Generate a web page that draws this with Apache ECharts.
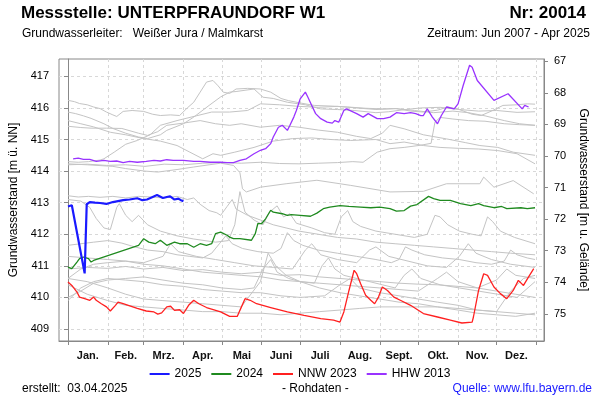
<!DOCTYPE html>
<html>
<head>
<meta charset="utf-8">
<script src="https://cdn.jsdelivr.net/npm/echarts@6/dist/echarts.min.js"></script>
<style>
  html, body { margin: 0; padding: 0; background: #fff; }
  #myChart { width: 600px; height: 400px; }
</style>
</head>
<body>
<div id="myChart"></div>
<script>
// Tagesnummer im Jahr (0 = 1. Jan.) / Wasserstand in m ü. NN
var monthStarts = [0, 31, 59, 90, 120, 151, 181, 212, 243, 273, 304, 334, 365];
var monthNames = ['Jan.', 'Feb.', 'Mrz.', 'Apr.', 'Mai', 'Juni', 'Juli', 'Aug.', 'Sept.', 'Okt.', 'Nov.', 'Dez.'];
var leftTicks = [409, 410, 411, 412, 413, 414, 415, 416, 417];
var rightTicks = [67, 68, 69, 70, 71, 72, 73, 74, 75];
var groundLevel = 484.48; // Gelände, fuer die rechte Achse

var y2025 = [[0,412.88],[3,412.92],[4,412.90],[13,410.76],[14.6,412.95],[17,413.02],[21,413.00],[25,412.99],[30,412.96],[35,413.02],[39,413.05],[43,413.08],[48,413.10],[54,413.14],[58,413.08],[61.6,413.10],[66,413.18],[69.4,413.24],[74,413.15],[77,413.18],[79.6,413.20],[83,413.10],[86,413.13],[88,413.08],[90,413.05]];

var y2024 = [[0,410.96],[3,410.91],[7,411.12],[9,411.23],[12,411.28],[16,411.23],[18,411.12],[20,411.17],[55,411.65],[59,411.86],[63,411.75],[68,411.70],[72,411.81],[77,411.65],[83,411.75],[87,411.70],[93,411.70],[98,411.59],[103,411.70],[108,411.65],[112,411.70],[115,412.02],[119,412.07],[124,411.97],[126,411.91],[129,411.86],[134,411.86],[143,411.81],[146,412.02],[148,412.34],[151,412.34],[154,412.49],[158,412.76],[160,412.70],[167,412.65],[171,412.60],[174,412.62],[181,412.60],[189,412.57],[194,412.67],[199,412.81],[204,412.86],[212,412.91],[219,412.88],[228,412.86],[236,412.84],[243,412.86],[251,412.81],[256,412.73],[262,412.75],[267,412.89],[272,412.94],[281,413.20],[285,413.13],[290,413.07],[298,413.07],[306,412.97],[314,412.91],[320,412.97],[324,412.91],[332,412.84],[338,412.88],[342,412.81],[353,412.84],[358,412.81],[364,412.84]];

var nnw2023 = [[0,410.49],[3,410.38],[7,410.17],[9,410.01],[13,409.96],[17,409.91],[20,410.01],[22,409.91],[26,409.80],[30,409.70],[33,409.57],[37,409.75],[39,409.85],[43,409.80],[47,409.75],[54,409.65],[61,409.57],[67,409.54],[70,409.47],[73,409.51],[77,409.70],[80,409.72],[83,409.59],[87,409.61],[90,409.49],[94,409.75],[98,409.91],[102,409.80],[108,409.68],[119,409.54],[126,409.40],[132,409.40],[134,409.59],[138,409.96],[142,409.91],[147,409.80],[158,409.68],[171,409.54],[184,409.43],[197,409.33],[207,409.28],[212,409.22],[215,409.54],[219,410.22],[223,410.86],[225,410.75],[228,410.44],[232,410.07],[236,409.91],[239,409.80],[242,410.01],[245,410.33],[249,410.22],[254,410.01],[259,409.91],[267,409.75],[277,409.49],[288,409.38],[298,409.28],[307,409.19],[315,409.22],[316,409.38],[320,410.22],[324,410.75],[327,410.70],[332,410.33],[337,410.12],[342,409.96],[347,410.22],[351,410.54],[355,410.38],[359,410.65],[363,410.91]];

var hhw2013 = [[4,414.39],[8,414.41],[12,414.37],[17,414.37],[22,414.31],[28,414.34],[33,414.31],[38,414.32],[43,414.27],[48,414.31],[54,414.28],[61,414.31],[67,414.34],[72,414.32],[77,414.36],[82,414.34],[90,414.34],[98,414.31],[103,414.31],[111,414.28],[119,414.28],[124,414.27],[129,414.27],[134,414.34],[139,414.39],[145,414.55],[150,414.66],[154,414.71],[158,414.87],[160,415.08],[164,415.39],[167,415.45],[171,415.29],[173,415.45],[176,415.71],[178,415.92],[181,416.29],[185,416.50],[187,416.34],[190,416.08],[193,415.82],[197,415.66],[202,415.55],[206,415.52],[208,415.60],[211,415.55],[215,415.92],[217,415.97],[225,415.82],[230,415.71],[234,415.82],[241,415.66],[246,415.66],[251,415.71],[256,415.85],[262,415.82],[267,415.85],[271,415.82],[275,415.76],[277,415.76],[280,415.97],[284,415.71],[288,415.50],[291,415.76],[295,416.03],[301,415.97],[304,416.13],[308,416.71],[313,417.35],[315,417.29],[319,416.87],[332,416.24],[343,416.45],[354,415.97],[356,416.08],[359,416.03]];

// uebrige Jahre (grau)
var grey01 = [[0,416.24],[5,416.2],[9,416.14],[15,416.1],[20,416.03],[25,415.98],[30,415.87],[35,415.78],[38,415.73],[43,415.89],[50,415.92],[59,415.89],[66,415.8],[72,415.76],[80,415.78],[87,415.76],[93,416.0],[98,416.18],[103,416.5],[108,416.82],[113,416.87],[117,416.7],[121,416.5],[126,416.46],[131,416.6],[140,416.62],[150,416.6],[158,416.5],[166,416.3],[172,416.23],[182,416.15],[192,416.08],[205,416.06],[218,416.03],[232,415.99],[245,415.97],[256,415.98],[267,415.9],[277,415.87],[288,415.93],[296,416.03],[305,415.95],[315,415.8],[322,415.76],[330,415.9],[339,416.08],[350,416.1],[358,416.13],[364,416.12]];
var grey02 = [[0,415.87],[6,415.82],[12,415.75],[18,415.67],[28,415.5],[35,415.35],[45,415.2],[55,415.08],[62,415.03],[72,415.15],[77,415.29],[90,415.5],[98,415.71],[110,416.08],[119,416.35],[126,416.5],[131,416.52],[138,416.56],[145,416.6],[152,416.34],[160,416.3],[171,416.18],[185,416.1],[197,415.97],[210,415.95],[223,415.92],[240,415.85],[250,415.88],[263,415.95],[275,416.0],[290,416.02],[305,415.95],[320,415.9],[334,415.92],[350,415.86],[364,415.88]];
var grey03 = [[0,415.42],[10,415.38],[18,415.36],[30,415.36],[42,415.35],[55,415.2],[62,415.13],[70,415.25],[77,415.45],[90,415.52],[103,415.6],[115,415.5],[126,415.45],[135,415.5],[150,415.39],[165,415.45],[180,415.39],[195,415.3],[210,415.23],[225,415.1],[236,415.03],[245,415.2],[251,415.45],[262,415.34],[277,415.15],[295,415.02],[310,414.9],[321,414.81],[335,414.75],[347,414.6],[364,414.5]];
var grey04 = [[0,414.3],[8,414.28],[16,414.3],[25,414.35],[28,414.39],[36,414.6],[45,414.85],[54,414.97],[64,415.15],[72,415.45],[85,415.6],[100,415.75],[112,415.87],[126,415.87],[140,415.92],[150,416.13],[165,416.1],[180,416.05],[195,416.02],[210,416.05],[225,416.0],[240,415.95],[255,415.98],[270,415.92],[285,415.85],[300,415.9],[312,415.85],[325,415.75],[340,415.6],[352,415.5],[364,415.45]];
var grey05 = [[0,415.6],[10,415.5],[20,415.4],[33,415.23],[45,415.15],[59,415.03],[72,414.95],[85,414.81],[95,414.6],[105,414.39],[113,414.55],[119,414.5],[130,414.6],[145,414.75],[160,414.95],[175,415.03],[190,415.05],[205,415.0],[220,414.97],[240,415.0],[251,414.87],[262,414.92],[277,414.81],[290,414.75],[305,414.72],[320,414.7],[335,414.65],[350,414.55],[364,414.23]];
var grey06 = [[0,414.2],[15,414.22],[30,414.18],[45,414.2],[60,414.15],[75,414.22],[90,414.2],[105,414.25],[119,414.27],[135,414.25],[150,414.28],[165,414.24],[180,414.23],[195,414.25],[210,414.27],[222,414.3],[230,414.28],[241,414.6],[251,414.71],[262,414.75],[275,414.82],[283,414.88],[286,415.55],[290,415.7],[300,415.65],[312,415.6],[325,415.58],[340,415.5],[352,415.47],[364,415.45]];
var grey07 = [[0,414.23],[15,414.2],[35,414.15],[45,414.08],[60,414.0],[70,413.97],[85,414.05],[98,414.13],[110,414.2],[119,414.25],[129,414.18],[134,413.95],[136,413.44],[139,413.34],[150,413.49],[170,413.6],[194,413.71],[220,413.55],[251,413.34],[277,413.36],[295,413.6],[321,413.6],[324,413.81],[332,413.49],[347,413.7],[363,413.28]];
var grey08 = [[0,413.22],[8,413.18],[16,413.2],[25,413.17],[35,413.2],[45,413.15],[55,413.2],[65,413.18],[75,413.15],[85,413.2],[93,413.1],[98,413.15],[103,412.95],[110,412.75],[116,412.68],[119,412.6],[124,412.88],[128,413.1],[131,412.8],[140,412.6],[150,412.45],[160,412.3],[170,412.2],[180,412.1],[195,412.0],[210,411.9],[225,411.85],[240,411.75],[255,411.7],[270,411.65],[285,411.6],[300,411.55],[315,411.5],[330,411.45],[345,411.4],[364,411.35]];
var grey09 = [[0,413.1],[10,413.05],[17,412.85],[22,412.5],[28,412.2],[33,412.15],[38,412.85],[40,412.97],[45,412.6],[50,412.4],[55,412.6],[62,412.3],[72,412.1],[85,411.95],[98,411.85],[115,411.75],[125,411.8],[130,412.3],[134,413.35],[138,412.7],[145,412.45],[152,412.3],[157,412.7],[163,412.9],[168,412.55],[173,412.65],[178,412.35],[190,412.2],[200,412.05],[208,412.0],[213,412.55],[218,412.75],[222,412.4],[228,412.25],[240,412.1],[255,412.0],[270,411.9],[280,412.0],[286,412.6],[290,412.55],[296,412.3],[305,412.1],[315,412.0],[322,411.95],[327,412.55],[331,412.4],[337,412.1],[348,411.9],[364,411.7]];
var grey10 = [[0,411.65],[10,411.7],[20,411.75],[31,411.8],[42,411.72],[52,411.6],[62,411.5],[74,411.45],[85,411.35],[95,411.3],[105,411.25],[112,411.4],[118,411.7],[123,411.95],[128,411.7],[136,411.55],[148,411.45],[160,411.4],[166,411.55],[171,412.05],[176,411.8],[183,411.65],[195,411.5],[210,411.4],[225,411.3],[240,411.2],[252,411.1],[258,411.2],[263,411.6],[268,411.5],[278,411.35],[292,411.25],[305,411.2],[318,411.1],[330,411.05],[340,411.15],[345,411.5],[350,411.35],[358,411.25],[364,411.2]];
var grey11 = [[0,410.9],[15,410.95],[31,410.92],[45,410.98],[59,410.9],[74,410.95],[90,410.85],[105,410.88],[120,410.8],[135,410.75],[151,410.8],[166,410.7],[181,410.72],[196,410.65],[212,410.6],[227,410.55],[243,410.5],[258,410.45],[273,410.42],[288,410.4],[304,410.35],[319,410.3],[334,410.55],[342,410.9],[349,410.7],[364,410.6]];
var grey12 = [[0,410.6],[10,410.9],[20,411.05],[31,411.1],[45,411.15],[59,411.05],[74,411.0],[90,410.9],[105,410.8],[120,410.75],[135,410.7],[151,410.65],[166,410.55],[181,410.5],[196,410.45],[212,410.4],[227,410.35],[243,410.3],[258,410.25],[273,410.2],[288,410.6],[295,410.8],[304,410.5],[319,410.3],[334,410.2],[349,410.1],[364,410.0]];
var grey13 = [[0,410.6],[15,410.5],[31,410.3],[45,410.1],[59,409.95],[74,409.9],[90,409.85],[105,409.8],[120,409.75],[135,409.7],[150,410.5],[156,411.4],[162,411.0],[170,410.7],[181,410.5],[196,410.3],[212,410.15],[227,410.05],[243,409.95],[258,409.85],[273,409.8],[288,409.7],[304,409.6],[319,409.5],[334,409.45],[349,409.4],[364,409.5]];
var grey14 = [[0,409.9],[10,410.3],[20,410.5],[31,410.6],[45,410.55],[59,410.5],[74,410.4],[90,410.35],[105,410.25],[120,410.2],[135,410.15],[150,410.15],[166,410.05],[181,410.0],[200,410.05],[212,410.4],[220,410.6],[227,410.3],[243,410.15],[258,410.05],[273,409.95],[288,409.85],[304,409.75],[319,409.6],[334,409.55],[345,410.2],[355,410.6],[364,410.7]];
var grey15 = [[0,410.4],[15,410.1],[31,409.9],[45,409.75],[59,409.7],[74,409.65],[90,409.6],[105,409.55],[120,409.55],[135,409.5],[151,409.5],[166,409.45],[181,409.5],[196,409.55],[212,409.6],[227,409.65],[243,409.7],[258,409.7],[273,409.7],[288,409.7],[304,409.65],[319,409.6],[334,409.55],[349,409.5],[364,409.45]];
var grey16 = [[0,410.0],[10,410.2],[20,410.45],[31,410.55],[45,410.6],[59,410.65],[74,410.55],[90,410.45],[105,410.4],[120,410.3],[135,410.25],[145,410.3],[152,410.9],[158,411.2],[163,410.8],[172,410.6],[181,410.5],[192,410.45],[198,411.0],[203,411.25],[208,410.9],[215,410.7],[230,410.55],[245,410.4],[255,410.3],[262,410.7],[268,410.9],[275,410.6],[290,410.4],[305,410.3],[320,410.2],[335,410.1],[350,410.0],[364,410.5]];
var grey17 = [[0,411.3],[15,411.25],[31,411.2],[45,411.15],[59,411.1],[74,411.3],[80,411.7],[86,411.45],[100,411.3],[115,411.2],[130,411.1],[145,411.0],[160,410.95],[175,410.9],[185,411.5],[190,411.7],[197,411.35],[210,411.2],[225,411.1],[235,411.5],[240,411.6],[250,411.3],[265,411.15],[280,411.0],[295,410.95],[305,411.3],[312,411.7],[318,411.4],[330,411.2],[345,411.05],[364,410.95]];

var greyYears = [grey01, grey02, grey03, grey04, grey05, grey06, grey07, grey08, grey09, grey10, grey11, grey12, grey13, grey14, grey15, grey16, grey17];

var myChart = echarts.init(document.getElementById('myChart'), null, { renderer: 'canvas' });

var monthMids = [];
for (var i = 0; i < 12; i++) {
  monthMids.push((monthStarts[i] + monthStarts[i + 1]) / 2);
}

var series = [];
greyYears.forEach(function (d, idx) {
  series.push({
    name: 'grau' + idx,
    type: 'line',
    data: d,
    showSymbol: false,
    silent: true,
    lineStyle: { color: '#c4c4c4', width: 1 },
    z: 1
  });
});

function mainLine(name, data, color, width) {
  return {
    name: name,
    type: 'line',
    data: data,
    showSymbol: false,
    color: color,
    lineStyle: { color: color, width: width },
    z: 3
  };
}
series.push(mainLine('HHW 2013', hhw2013, '#9933ff', 1.3));
series.push(mainLine('NNW 2023', nnw2023, '#ff2020', 1.3));
series.push(mainLine('2024', y2024, '#1f8a1f', 1.3));
series.push(mainLine('2025', y2025, '#1a1aff', 2.2));

var txt = { fontFamily: 'Liberation Sans, Arial, sans-serif' };

var option = {
  animation: false,
  backgroundColor: '#fff',
  textStyle: txt,
  grid: { left: 59, right: 56, top: 59, bottom: 59, show: true, borderColor: '#888', borderWidth: 1, containLabel: false, outerBoundsMode: 'none' },
  legend: {
    data: ['2025', '2024', 'NNW 2023', 'HHW 2013'],
    bottom: 15,
    left: 'center',
    icon: 'rect',
    itemWidth: 20,
    itemHeight: 2,
    itemGap: 10,
    textStyle: { fontSize: 12, color: '#000', fontFamily: txt.fontFamily }
  },
  graphic: [
    { type: 'text', left: 21, top: 5, style: { text: 'Messstelle: UNTERPFRAUNDORF W1', font: 'bold 17px Liberation Sans, Arial', fill: '#000' } },
    { type: 'text', right: 14, top: 5, style: { text: 'Nr: 20014', font: 'bold 17px Liberation Sans, Arial', fill: '#000' } },
    { type: 'text', left: 22, top: 28, style: { text: 'Grundwasserleiter:   Weißer Jura / Malmkarst', font: '12px Liberation Sans, Arial', fill: '#000' } },
    { type: 'text', right: 10, top: 28, style: { text: 'Zeitraum: Jun 2007 - Apr 2025', font: '12px Liberation Sans, Arial', fill: '#000' } },
    { type: 'text', left: 22, top: 383, style: { text: 'erstellt:  03.04.2025', font: '12px Liberation Sans, Arial', fill: '#000' } },
    { type: 'text', left: 282, top: 383, style: { text: '- Rohdaten -', font: '12px Liberation Sans, Arial', fill: '#000' } },
    { type: 'text', right: 8, top: 383, style: { text: 'Quelle: www.lfu.bayern.de', font: '12px Liberation Sans, Arial', fill: '#1a1aff' } }
  ],
  xAxis: {
    type: 'value',
    min: -7,
    max: 371,
    axisLine: { show: true, lineStyle: { color: '#888' } },
    axisTick: { show: true, length: 4, lineStyle: { color: '#888' }, customValues: monthStarts },
    axisLabel: {
      customValues: monthMids,
      margin: 9,
      fontSize: 11,
      fontWeight: 'bold',
      color: '#111',
      formatter: function (v) {
        var k = monthMids.indexOf(v);
        return k >= 0 ? monthNames[k] : '';
      }
    },
    splitLine: { show: true, lineStyle: { color: '#d8d8d8', type: [3, 3] } }
  },
  yAxis: [
    {
      type: 'value',
      min: 408.62,
      max: 417.55,
      position: 'left',
      name: 'Grundwasserstand [m ü. NN]',
      nameLocation: 'middle',
      nameGap: 34,
      nameRotate: 90,
      nameTextStyle: { fontSize: 12, color: '#000' },
      axisLine: { show: true, lineStyle: { color: '#888' } },
      axisTick: { show: true, length: 4, lineStyle: { color: '#888' }, customValues: leftTicks },
      axisLabel: { customValues: leftTicks, margin: 10, fontSize: 11, color: '#000' },
      splitLine: { show: true, lineStyle: { color: '#d8d8d8', type: [3, 3] } }
    },
    {
      type: 'value',
      inverse: true,
      min: groundLevel - 417.55,
      max: groundLevel - 408.62,
      position: 'right',
      name: 'Grundwasserstand [m u. Gelände]',
      nameLocation: 'middle',
      nameGap: 30,
      nameRotate: -90,
      nameTextStyle: { fontSize: 12, color: '#000' },
      axisLine: { show: true, lineStyle: { color: '#888' } },
      axisTick: { show: true, length: 4, lineStyle: { color: '#888' }, customValues: rightTicks },
      axisLabel: { customValues: rightTicks, margin: 10, fontSize: 11, color: '#000' },
      splitLine: { show: false }
    }
  ],
  series: series
};

myChart.setOption(option);
</script>
</body>
</html>
